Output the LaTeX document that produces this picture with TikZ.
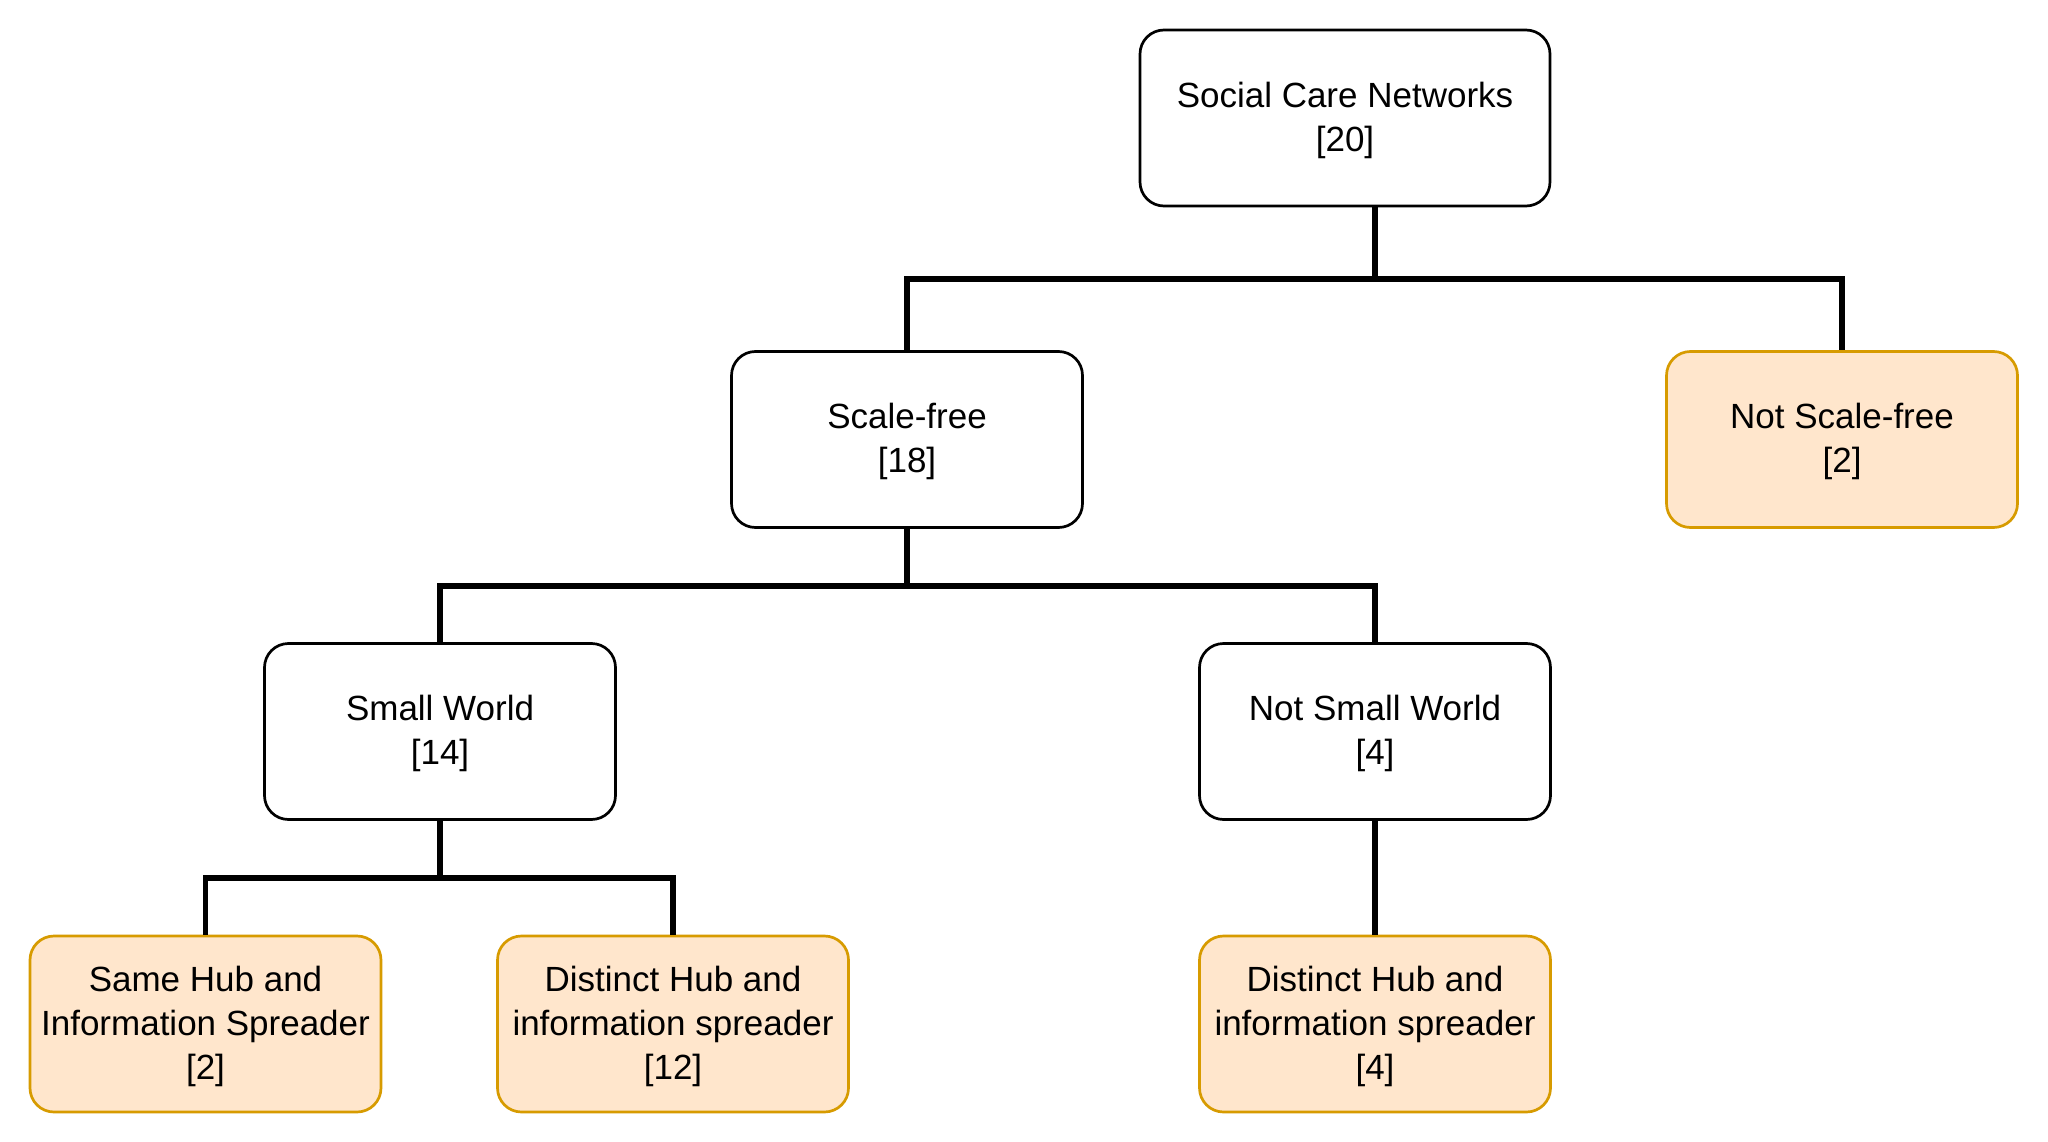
\documentclass[tikz,border=0pt]{standalone}
\usepackage{fontspec}
\setmainfont{Liberation Sans}
\definecolor{orfill}{HTML}{FFE6CC}
\definecolor{ordraw}{HTML}{D79B00}
\newcommand{\topstrut}{\rule{0pt}{30pt}}
\tikzset{
  box/.style={draw=black, fill=white, line width=2.7pt, rounded corners=24pt,
    rectangle, minimum width=351pt, minimum height=176pt, inner sep=0pt,
    align=center, font=\fontsize{35}{44}\selectfont},
  leafbox/.style={box, draw=ordraw, fill=orfill},
  rootbox/.style={box, minimum width=410pt},
  link/.style={line width=5.5pt, line join=miter, draw=black}
}
\begin{document}
\begin{tikzpicture}[x=1pt,y=-1pt]
\useasboundingbox (0,0) rectangle (2048,1142);
\fill[white] (0,0) rectangle (2048,1142);
% nodes
\node[rootbox] (root) at (1345,118) {\topstrut Social Care Networks\\{}[20]};
\node[box] (sf) at (907,439.5) {\topstrut Scale-free\\{}[18]};
\node[leafbox] (nsf) at (1842,439.5) {\topstrut Not Scale-free\\{}[2]};
\node[box] (sw) at (440,731.5) {\topstrut Small World\\{}[14]};
\node[box] (nsw) at (1375,731.5) {\topstrut Not Small World\\{}[4]};
\node[leafbox] (sh) at (205.5,1024) {\topstrut Same Hub and\\Information Spreader\\{}[2]};
\node[leafbox] (dh1) at (673,1024) {\topstrut Distinct Hub and\\information spreader\\{}[12]};
\node[leafbox] (dh2) at (1375,1024) {\topstrut Distinct Hub and\\information spreader\\{}[4]};
% junctions
\coordinate (j1) at (1375,279);
\coordinate (j2) at (907,586);
\coordinate (j3) at (440,878);
% connectors
\draw[link] (root.south -| j1) -- (j1);
\draw[link] (sf.north) |- (j1) -| (nsf.north);
\draw[link] (sf.south) -- (j2);
\draw[link] (sw.north) |- (j2) -| (nsw.north);
\draw[link] (sw.south) -- (j3);
\draw[link] (sh.north) |- (j3) -| (dh1.north);
\draw[link] (nsw.south) -- (dh2.north);
\end{tikzpicture}
\end{document}
